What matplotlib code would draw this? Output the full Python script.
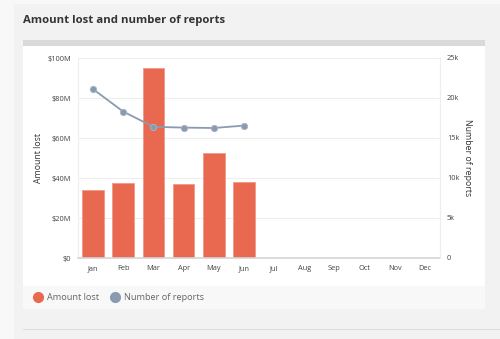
import matplotlib
matplotlib.use("Agg")
import matplotlib.pyplot as plt
from matplotlib.patches import Rectangle
from matplotlib.lines import Line2D
from matplotlib.ticker import FixedLocator

months = ["Jan", "Feb", "Mar", "Apr", "May", "Jun", "Jul", "Aug", "Sep", "Oct", "Nov", "Dec"]
amount_lost_m = [33.8, 37.4, 94.8, 36.8, 52.4, 37.9]          # $ millions, Jan-Jun
reports_k = [21.1, 18.3, 16.4, 16.3, 16.25, 16.55]               # thousands of reports
left_ticks = [0, 20, 40, 60, 80, 100]
left_labels = ["$0", "$20M", "$40M", "$60M", "$80M", "$100M"]
right_ticks = [0, 5, 10, 15, 20, 25]
right_labels = ["0", "5k", "10k", "15k", "20k", "25k"]

W, H = 500, 339
plt.rcParams['font.family'] = ['Open Sans', 'DejaVu Sans']
fig = plt.figure(figsize=(W / 100, H / 100), dpi=100, facecolor="#f8f8f8")

def rect(x0, y0, x1, y1, color, z=0):
    fig.add_artist(Rectangle((x0 / W, 1 - y1 / H), (x1 - x0) / W, (y1 - y0) / H,
                             transform=fig.transFigure, facecolor=color,
                             edgecolor="none", zorder=z))

rect(14, 4, 500, 339, "#f2f2f2", -3)
rect(23, 40, 485, 46, "#d9d9d9", -2)
rect(23, 46, 485, 286, "#ffffff", -2)
rect(23, 286, 485, 309, "#f8f8f8", -2)
rect(23, 328.5, 500, 330, "#dcdcdc", -2)

fig.text(23 / W, 1 - 20 / H, "Amount lost and number of reports", fontsize=8.2,
         fontweight="bold", color="#333333", ha="left", va="center")

ax = fig.add_axes([78 / W, 1 - 258 / H, 362 / W, 200 / H])
ax.set_facecolor("none")
x = list(range(len(amount_lost_m)))
ax.bar(x, amount_lost_m, width=0.72, color="#e8694f", edgecolor="#f09a86",
       linewidth=0.6, zorder=2)
ax.set_xlim(-0.5, len(months) - 0.5)
ax.set_ylim(0, 100)
ax.set_xticks(range(len(months)))
ax.set_xticklabels(months)
ax.yaxis.set_major_locator(FixedLocator(left_ticks))
ax.set_yticklabels(left_labels)
ax.grid(axis="y", color="#eeeeee", linewidth=0.8, zorder=0)
ax.set_axisbelow(True)
ax.spines["top"].set_visible(False)
ax.spines["left"].set_color("#eeeeee")
ax.spines["right"].set_color("#eeeeee")
ax.spines["bottom"].set_color("#d4d4d4")
ax.spines["bottom"].set_linewidth(1.2)
ax.tick_params(axis="both", length=0, labelsize=5.3, colors="#444444")
ax.tick_params(axis="x", pad=5)
ax.tick_params(axis="y", pad=5)
ax.set_ylabel("Amount lost", fontsize=6.3, color="#333333", labelpad=3)

ax2 = ax.twinx()
ax2.set_ylim(0, 25)
ax2.plot(x, reports_k, color="#8a9bb0", linewidth=1.3, marker="o",
         markersize=4.6, markerfacecolor="#8a9bb0", markeredgecolor="#a9b6c6",
         markeredgewidth=0.6, zorder=3)
ax2.yaxis.set_major_locator(FixedLocator(right_ticks))
ax2.set_yticklabels(right_labels)
ax2.tick_params(axis="y", length=0, labelsize=5.3, colors="#444444", pad=5)
for s in ["top", "left", "bottom"]:
    ax2.spines[s].set_visible(False)
ax2.spines["right"].set_color("#eeeeee")
ax2.set_ylabel("Number of reports", fontsize=6.3, color="#333333", rotation=270,
               labelpad=9)

handles = [
    Line2D([], [], linestyle="none", marker="o", markersize=7, color="#e8694f"),
    Line2D([], [], linestyle="none", marker="o", markersize=7, color="#8a9bb0"),
]
fig.legend(handles, ["Amount lost", "Number of reports"], loc="center left",
           bbox_to_anchor=(28 / W, 1 - 298 / H), ncol=2, frameon=False,
           fontsize=6.6, labelcolor="#666666", handletextpad=0.35,
           columnspacing=1.2, borderpad=0, handlelength=1.2)

fig.savefig("out.png", dpi=100, facecolor=fig.get_facecolor())
